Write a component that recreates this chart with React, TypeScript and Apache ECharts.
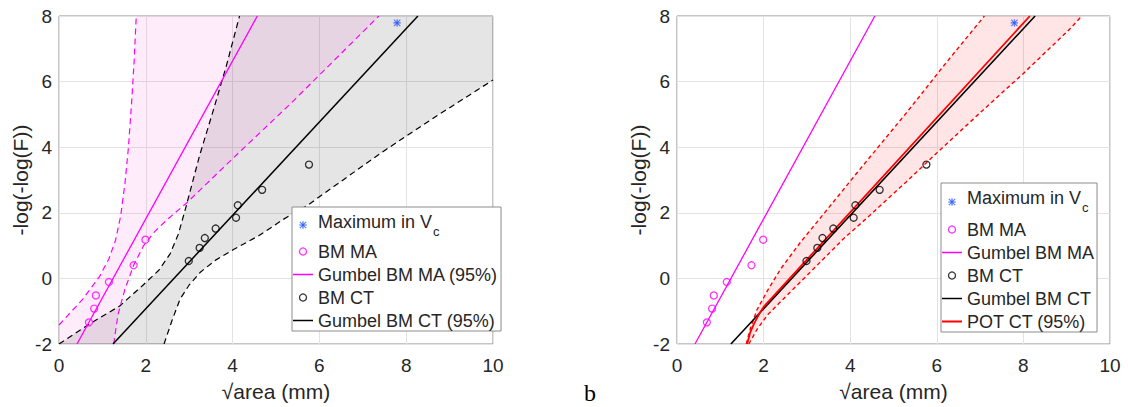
import { useEffect, useRef } from 'react';
import * as echarts from 'echarts';

type P = [number, number];

// ---- data ----
const MAX_NAME = 'Maximum in Vc';

const maxPoint: P[] = [[7.79, 7.79]];
const maPoints: P[] = [[0.69, -1.34], [0.81, -0.92], [0.85, -0.52], [1.15, -0.11], [1.72, 0.4], [1.99, 1.18]];
const ctPoints: P[] = [[2.99, 0.53], [3.24, 0.93], [3.36, 1.23], [3.61, 1.52], [4.08, 1.85], [4.12, 2.23], [4.68, 2.7], [5.76, 3.47]];

const gumbelMA: P[] = [[0.415, -2], [4.57, 8]];
const gumbelCT: P[] = [[1.245, -2], [8.27, 8]];

const maUpper: P[] = [[0, -1.42], [0.55, -0.63], [0.94, 0.07], [1.15, 0.6], [1.3, 1.15], [1.42, 1.9], [1.52, 2.9], [1.6, 4.0], [1.67, 5.3], [1.73, 6.6], [1.78, 8]];
const maLower: P[] = [[1.26, -2], [1.36, -1.1], [1.52, -0.33], [1.72, 0.4], [1.95, 1.0], [2.2, 1.42], [2.5, 1.8], [2.94, 2.3], [4.0, 3.65], [5.33, 5.32], [7.37, 8]];

const ctUpper: P[] = [[0, -2], [0.7, -1.39], [1.4, -0.84], [1.94, -0.2], [2.3, 0.25], [2.56, 0.75], [2.75, 1.35], [2.93, 2.2], [3.24, 3.75], [3.55, 5.1], [3.86, 6.5], [4.16, 8]];
const ctLower: P[] = [[2.42, -2], [2.6, -1.3], [2.79, -0.63], [3.0, -0.2], [3.25, 0.18], [3.6, 0.55], [4.02, 0.88], [4.6, 1.3], [5.17, 1.8], [5.75, 2.25], [6.33, 2.8], [7.48, 3.88], [8.7, 4.95], [10, 6.05]];

const potCT: P[] = [[1.62, -2], [1.69, -1.65], [1.78, -1.38], [1.9, -1.08], [2.0, -0.87], [8.15, 8]];
const potUpper: P[] = [[1.6, -2], [1.7, -1.5], [1.85, -0.95], [2.1, -0.35], [2.4, 0.3], [2.85, 1.1], [3.5, 2.15], [4.3, 3.45], [5.3, 5.05], [6.2, 6.55], [7.1, 8]];
const potLower: P[] = [[1.66, -2], [1.85, -1.55], [2.1, -1.1], [2.4, -0.7], [3.07, 0.18], [3.84, 1.2], [4.52, 2.0], [5.3, 2.95], [6.06, 3.9], [7.0, 5.05], [8.0, 6.25], [9.07, 7.6], [9.35, 8]];

// band outlines (corners of the axes box in data units)
const pinkBand: P[] = [[0, -2], ...maUpper, ...maLower.slice().reverse()];
const grayBand: P[] = [...ctUpper, [10, 8], ...ctLower.slice().reverse()];
const redBand: P[] = [...potUpper, ...potLower.slice().reverse()];

const leftLegend = [MAX_NAME, 'BM MA', 'Gumbel BM MA (95%)', 'BM CT', 'Gumbel BM CT (95%)'];
const rightLegend = [MAX_NAME, 'BM MA', 'Gumbel BM MA', 'BM CT', 'Gumbel BM CT', 'POT CT (95%)'];
const lineNames = ['Gumbel BM MA (95%)', 'Gumbel BM CT (95%)', 'Gumbel BM MA', 'Gumbel BM CT', 'POT CT (95%)'];

const X_NAME = '√area (mm)';
const Y_NAME = '-log(-log(F))';

// ---- styles ----
const FONT = "'Liberation Sans', Arial, Helvetica, sans-serif";
const TXT = '#262626';
const MAGENTA = '#ff00ff';
const RED = '#ff0000';
const BLUE = '#2255ff';
const STAR =
  'path://M4.5 0H5.5V4.5H10V5.5H5.5V10H4.5V5.5H0V4.5H4.5Z M1 0.3L5 4.3L9 0.3L9.7 1L5.7 5L9.7 9L9 9.7L5 5.7L1 9.7L0.3 9L4.3 5L0.3 1Z';
const LINE_ICON = 'path://M0 0H20V1.5H0Z';
const THICK_LINE_ICON = 'path://M0 0H20V2H0Z';

function band(pts: P[], fill: string, idx: number) {
  return {
    type: 'custom',
    coordinateSystem: 'cartesian2d',
    xAxisIndex: idx,
    yAxisIndex: idx,
    silent: true,
    z: 1,
    data: [pts[0]],
    renderItem: (_params: any, api: any) => ({
      type: 'polygon',
      shape: { points: pts.map((p) => api.coord(p)) },
      style: { fill, stroke: 'none' },
    }),
  };
}

function line(name: string, pts: P[], color: string, width: number, idx: number, dash?: number[]) {
  return {
    type: 'line',
    name,
    xAxisIndex: idx,
    yAxisIndex: idx,
    data: pts,
    symbol: 'none',
    z: dash ? 2 : 3,
    lineStyle: { color, width, type: dash ? dash : 'solid' },
    itemStyle: { color },
    silent: true,
  };
}

function pts(name: string, data: P[], color: string, idx: number) {
  return {
    type: 'scatter',
    name,
    xAxisIndex: idx,
    yAxisIndex: idx,
    data,
    symbol: 'circle',
    symbolSize: 7,
    z: 4,
    itemStyle: { color: 'transparent', borderColor: color, borderWidth: 1.3 },
    silent: true,
  };
}

function star(idx: number) {
  return {
    type: 'scatter',
    name: MAX_NAME,
    xAxisIndex: idx,
    yAxisIndex: idx,
    data: maxPoint,
    symbol: STAR,
    symbolSize: 7,
    z: 4,
    itemStyle: { color: BLUE, borderColor: BLUE, borderWidth: 0.4 },
    silent: true,
  };
}

function legendItem(name: string) {
  if (lineNames.indexOf(name) >= 0) {
    return { name, icon: name === 'POT CT (95%)' ? THICK_LINE_ICON : LINE_ICON, itemStyle: { borderWidth: 0 } };
  }
  return { name, itemStyle: { borderWidth: name === MAX_NAME ? 0.4 : 1.3 } };
}

function legend(data: string[], left: number, top: number, subLine: number, subH: number) {
  return {
    data: data.map(legendItem),
    left,
    top,
    orient: 'vertical',
    itemWidth: 20,
    itemHeight: 7,
    itemGap: 2,
    padding: [4, 3, 0, 1],
    borderColor: '#8c8c8c',
    borderWidth: 1,
    backgroundColor: '#ffffff',
    selectedMode: false,
    formatter: (n: string) => (n === MAX_NAME ? '{main|Maximum in V}{sub|c}' : `{main|${n}}`),
    textStyle: {
      fontSize: 18,
      fontFamily: FONT,
      color: TXT,
      rich: {
        main: { fontSize: 18, fontFamily: FONT, color: TXT, height: 21, lineHeight: 21, verticalAlign: 'top' },
        sub: { fontSize: 13, fontFamily: FONT, color: TXT, height: subH, lineHeight: subLine, verticalAlign: 'bottom', padding: [0, 0, 0, 1] },
      },
    },
  };
}

function xAxis(gridIndex: number) {
  return {
    type: 'value',
    gridIndex,
    min: 0,
    max: 10,
    interval: 2,
    name: X_NAME,
    nameLocation: 'middle',
    nameGap: 37,
    nameTextStyle: { fontSize: 21, color: TXT, fontFamily: FONT },
    axisLine: { show: false },
    axisTick: { show: false },
    axisLabel: { fontSize: 19, color: TXT, fontFamily: FONT, margin: 12 },
    splitLine: { show: true, lineStyle: { color: '#e3e3e3', width: 1 } },
  };
}

function yAxis(gridIndex: number) {
  return {
    type: 'value',
    gridIndex,
    min: -2,
    max: 8,
    interval: 2,
    name: Y_NAME,
    nameLocation: 'middle',
    nameGap: 27,
    nameTextStyle: { fontSize: 21, color: TXT, fontFamily: FONT },
    axisLine: { show: false },
    axisTick: { show: false },
    axisLabel: { fontSize: 19, color: TXT, fontFamily: FONT, margin: 7 },
    splitLine: { show: true, lineStyle: { color: '#e3e3e3', width: 1 } },
  };
}

export default function App() {
  const ref = useRef<HTMLDivElement>(null);

  useEffect(() => {
    if (!ref.current) return;
    const chart = echarts.init(ref.current, undefined, { renderer: 'svg' });
    const gridCommon = { show: true, borderColor: '#8c8c8c', borderWidth: 1, backgroundColor: 'transparent', containLabel: false };
    chart.setOption({
      animation: false,
      backgroundColor: '#ffffff',
      grid: [
        { ...gridCommon, left: 59, top: 16, width: 434, height: 329 },
        { ...gridCommon, left: 677, top: 16, width: 433, height: 329 },
      ],
      xAxis: [xAxis(0), xAxis(1)],
      yAxis: [yAxis(0), yAxis(1)],
      legend: [legend(leftLegend, 292, 207, 28, 15), legend(rightLegend, 941, 183, 30, 19)],
      graphic: [
        {
          type: 'text',
          left: 584,
          top: 381,
          style: { text: 'b', font: "24px 'Liberation Serif', 'Times New Roman', serif", fill: '#000' },
        },
      ],
      series: [
        // left panel
        band(grayBand, 'rgba(0,0,0,0.1)', 0),
        band(pinkBand, 'rgba(255,70,210,0.1)', 0),
        line('CT lower bound', ctLower, '#000', 1.2, 0, [6, 4]),
        line('CT upper bound', ctUpper, '#000', 1.2, 0, [6, 4]),
        line('MA lower bound', maLower, MAGENTA, 1.2, 0, [6, 4]),
        line('MA upper bound', maUpper, MAGENTA, 1.2, 0, [6, 4]),
        line('Gumbel BM CT (95%)', gumbelCT, '#000', 1.5, 0),
        line('Gumbel BM MA (95%)', gumbelMA, MAGENTA, 1.3, 0),
        pts('BM MA', maPoints, MAGENTA, 0),
        pts('BM CT', ctPoints, '#000', 0),
        star(0),
        // right panel
        band(redBand, 'rgba(255,0,0,0.1)', 1),
        line('POT lower bound', potLower, RED, 1.4, 1, [4, 3]),
        line('POT upper bound', potUpper, RED, 1.4, 1, [4, 3]),
        line('Gumbel BM MA', gumbelMA, MAGENTA, 1.3, 1),
        line('Gumbel BM CT', gumbelCT, '#000', 1.6, 1),
        line('POT CT (95%)', potCT, RED, 1.8, 1),
        pts('BM MA', maPoints, MAGENTA, 1),
        pts('BM CT', ctPoints, '#000', 1),
        star(1),
      ],
    });
    return () => chart.dispose();
  }, []);

  return <div ref={ref} style={{ position: 'absolute', left: 0, top: 0, width: 1128, height: 407 }} />;
}
